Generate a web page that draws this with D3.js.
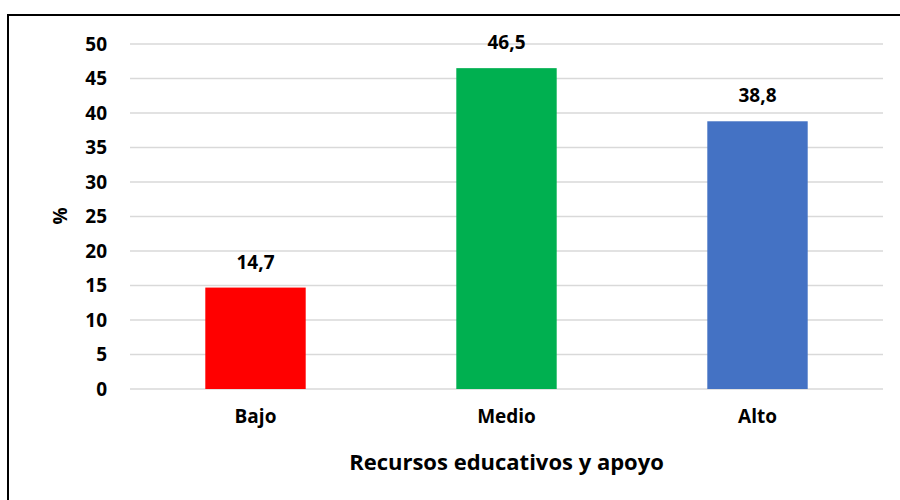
<!DOCTYPE html>
<html>
<head>
<meta charset="utf-8">
<script src="https://cdn.jsdelivr.net/npm/d3@7"></script>
<style>
  body{margin:0;background:#fff;}
  text{font-family:"Open Sans",sans-serif;font-weight:bold;fill:#000;}
</style>
</head>
<body>
<svg id="chart"></svg>
<script>
const categories = ["Bajo","Medio","Alto"];
const values = [14.7,46.5,38.8];
const labels = ["14,7","46,5","38,8"];
const colors = ["#ff0000","#00b050","#4472c4"];
const y_ticks = [0,5,10,15,20,25,30,35,40,45,50];

const width = 900, height = 500;
const margin = {top:44,right:17,bottom:111,left:130};
const inner_width = width-margin.left-margin.right;
const inner_height = height-margin.top-margin.bottom;

const svg = d3.select("#chart").attr("width",width).attr("height",height);

// frame
svg.append("rect")
    .attr("x",8).attr("y",15)
    .attr("width",width).attr("height",height)
    .attr("fill","none").attr("stroke","#000").attr("stroke-width",2);

const chart = svg.append("g")
    .attr("transform",`translate(${margin.left},${margin.top})`);

const xscale = d3.scaleBand()
    .domain(categories)
    .range([0,inner_width])
    .paddingInner(0.6)
    .paddingOuter(0.3);

const yscale = d3.scaleLinear()
    .domain([0,50])
    .range([inner_height,0]);

// gridlines
chart.append("g")
    .selectAll("line")
    .data(y_ticks)
    .join("line")
    .attr("x1",0).attr("x2",inner_width)
    .attr("y1",d=>yscale(d)).attr("y2",d=>yscale(d))
    .attr("stroke","#d9d9d9").attr("stroke-width",1.5);

// y axis
const yaxis = d3.axisLeft(yscale).tickValues(y_ticks).tickSize(0).tickPadding(23);
chart.append("g").call(yaxis)
    .call(g=>g.select(".domain").remove())
    .selectAll("text")
    .attr("font-size",19);

// bars
chart.selectAll("rect.bar")
    .data(values)
    .join("rect")
    .attr("class","bar")
    .attr("x",(d,i)=>xscale(categories[i]))
    .attr("y",d=>yscale(d))
    .attr("width",xscale.bandwidth())
    .attr("height",d=>inner_height-yscale(d))
    .attr("fill",(d,i)=>colors[i]);

// value labels
chart.selectAll("text.val")
    .data(values)
    .join("text")
    .attr("class","val")
    .attr("x",(d,i)=>xscale(categories[i])+xscale.bandwidth()/2)
    .attr("y",d=>yscale(d)-19)
    .attr("text-anchor","middle")
    .attr("font-size",19)
    .text((d,i)=>labels[i]);

// x axis
const xaxis = d3.axisBottom(xscale).tickSize(0).tickPadding(21);
chart.append("g")
    .attr("transform",`translate(0,${inner_height})`)
    .call(xaxis)
    .call(g=>g.select(".domain").remove())
    .selectAll("text")
    .attr("font-size",19);

// axis titles
svg.append("text")
    .attr("x",margin.left+inner_width/2)
    .attr("y",470)
    .attr("text-anchor","middle")
    .attr("font-size",22)
    .text("Recursos educativos y apoyo");

svg.append("text")
    .attr("transform","translate(67,216) rotate(-90)")
    .attr("text-anchor","middle")
    .attr("font-size",19)
    .text("%");
</script>
</body>
</html>
